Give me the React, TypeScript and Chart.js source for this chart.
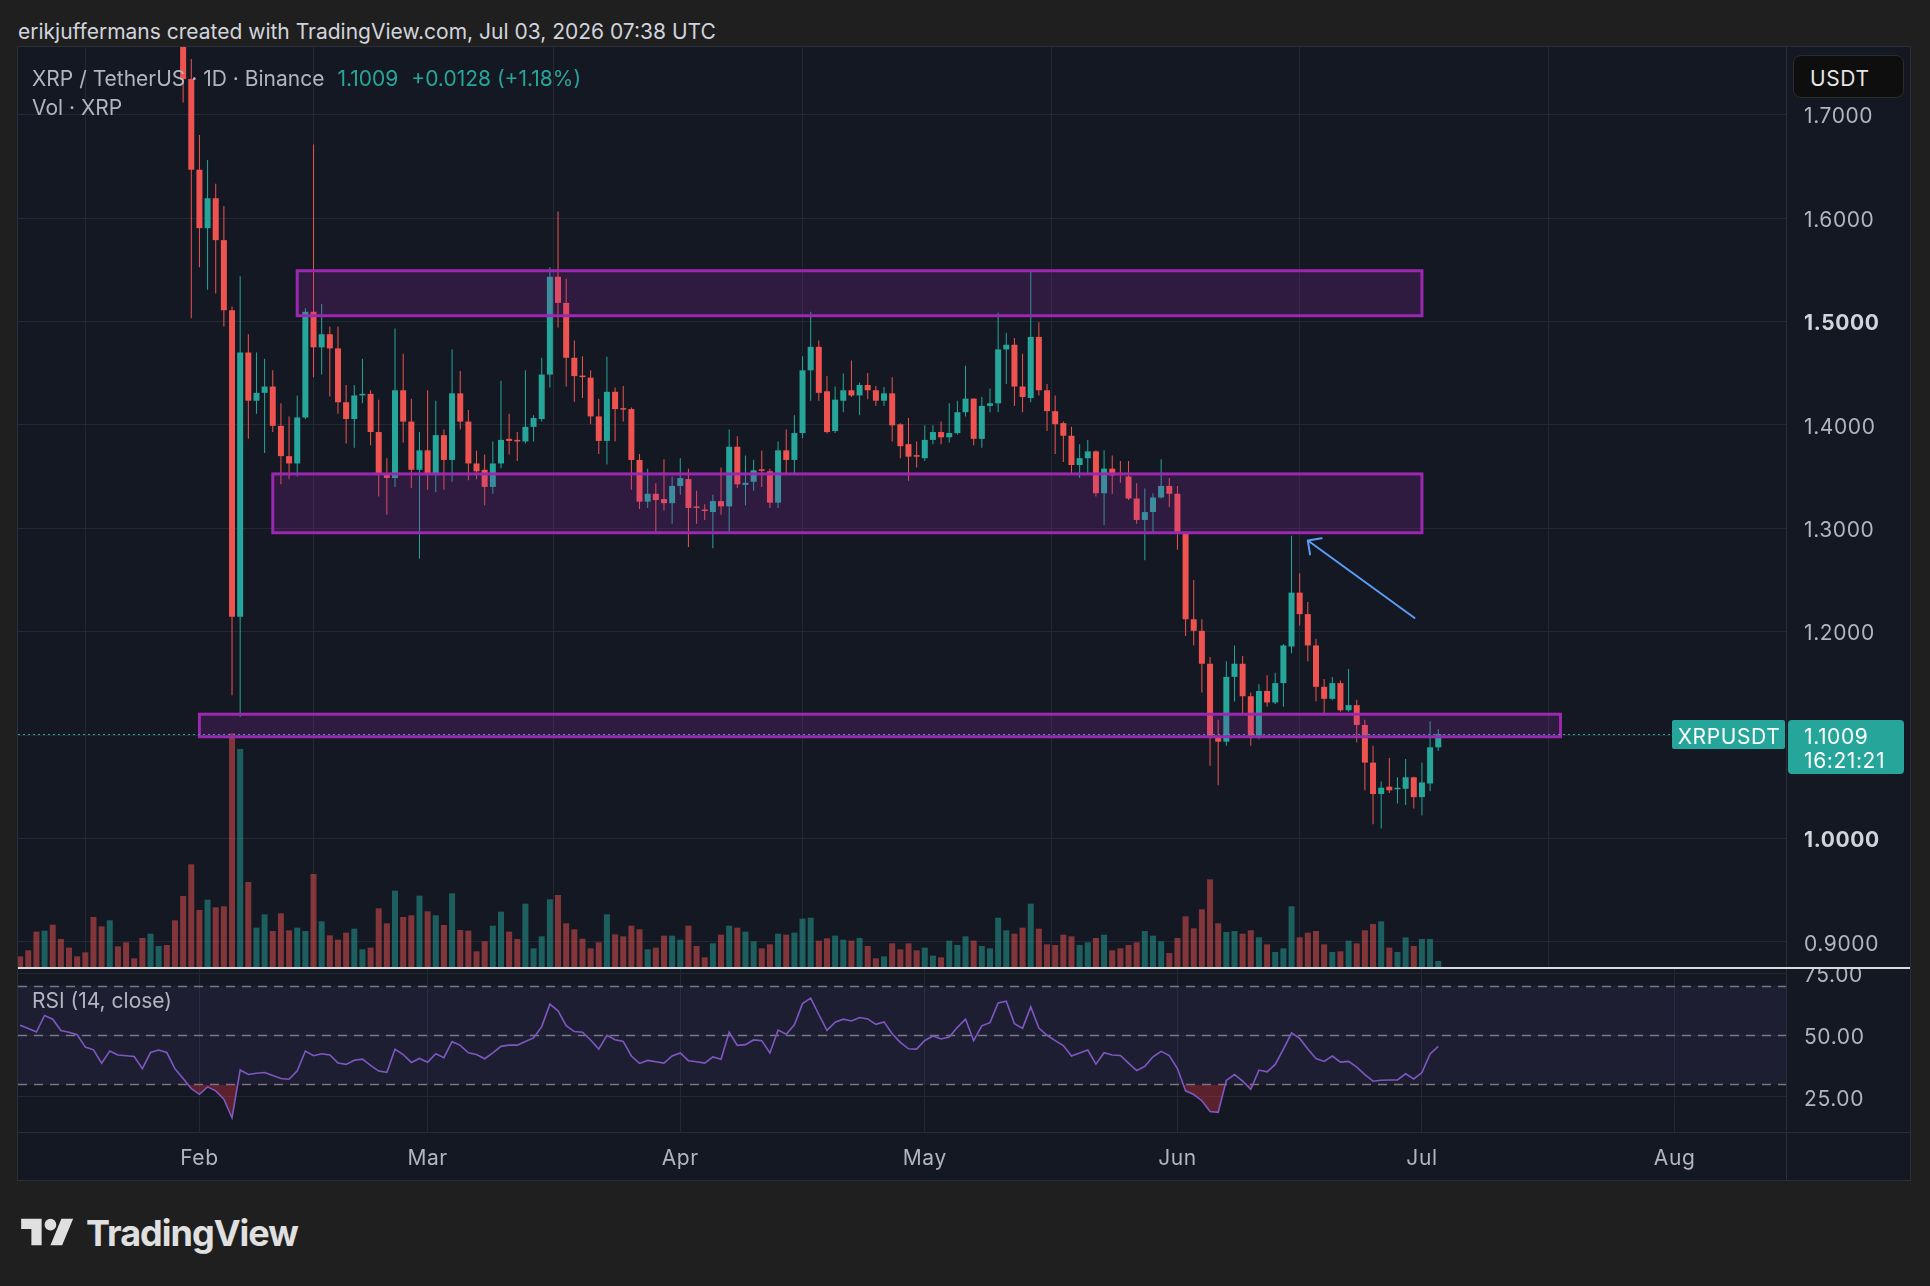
import React, { useEffect, useRef } from 'react';
import { Chart, registerables } from 'chart.js';

Chart.register(...registerables);

// ---------------------------------------------------------------------------
// DATA
// Day numbers count from 1 Feb 2026 (= day 0). Volume / RSI start 10 Jan 2026.
// ---------------------------------------------------------------------------
const FIRST_DAY = -22; // 10 Jan 2026
const FIRST_CANDLE_DAY = -2; // 30 Jan 2026: first candle inside the visible price range

const monthLabels = ['Feb', 'Mar', 'Apr', 'May', 'Jun', 'Jul', 'Aug'];
const monthDays = [0, 28, 59, 89, 120, 150, 181];
const priceTicks = [0.9, 1.0, 1.1, 1.2, 1.3, 1.4, 1.5, 1.6, 1.7];
const emphasisedPriceTicks = [1.0, 1.5];
const rsiTicks = [25, 50, 75];
const rsiBands = [70, 50, 30];

const opens = [
  1.78, 1.7344, 1.6467, 1.5902, 1.6191, 1.5786, 1.5108, 1.2144, 1.4699, 1.4233,
  1.4309, 1.437, 1.399, 1.3697, 1.3626, 1.4071, 1.5093, 1.4749, 1.4876, 1.4739,
  1.4218, 1.4056, 1.4284, 1.4299, 1.393, 1.3525, 1.3485, 1.4334, 1.4031, 1.3565,
  1.3753, 1.3525, 1.39, 1.366, 1.4304, 1.4031, 1.3626, 1.3565, 1.3399, 1.3626,
  1.3864, 1.3854, 1.3839, 1.398, 1.4056, 1.4486, 1.5432, 1.5179, 1.4648, 1.4476,
  1.4456, 1.4081, 1.3844, 1.4319, 1.4157, 1.4152, 1.366, 1.3257, 1.3333, 1.3282,
  1.3242, 1.3409, 1.3475, 1.3206, 1.3181, 1.3156, 1.3262, 1.3211, 1.3788, 1.3419,
  1.3449, 1.3565, 1.355, 1.3247, 1.3753, 1.366, 1.392, 1.4527, 1.4754, 1.4324,
  1.394, 1.4233, 1.4334, 1.4284, 1.4385, 1.4334, 1.4233, 1.4304, 1.4005, 1.3813,
  1.3697, 1.3677, 1.3854, 1.393, 1.3879, 1.392, 1.4122, 1.4253, 1.3864, 1.4183,
  1.4208, 1.4729, 1.4774, 1.437, 1.4259, 1.485, 1.4334, 1.4132, 1.4016, 1.3894,
  1.3611, 1.3677, 1.3743, 1.3338, 1.3576, 1.3525, 1.35, 1.3287, 1.308, 1.3156,
  1.3297, 1.3409, 1.3333, 1.2958, 1.2119, 1.2008, 1.1689, 1.0981, 1.0935, 1.1562,
  1.1689, 1.1375, 1.0971, 1.1426, 1.1315, 1.1502, 1.1856, 1.2377, 1.2169, 1.1866,
  1.1466, 1.135, 1.1502, 1.1239, 1.1289, 1.1097, 1.0733, 1.0429, 1.05, 1.0475,
  1.048, 1.0591, 1.0399, 1.0531, 1.0881,
];

const highs = [
  1.79, 1.7538, 1.6803, 1.656, 1.6332, 1.6115, 1.5144, 1.5437, 1.4876, 1.4699,
  1.4638, 1.4527, 1.4208, 1.4081, 1.4284, 1.5128, 1.6712, 1.5169, 1.4951, 1.4951,
  1.4385, 1.4385, 1.4638, 1.4334, 1.4243, 1.3677, 1.4931, 1.4688, 1.4253, 1.393,
  1.4334, 1.4233, 1.3955, 1.4729, 1.4521, 1.4142, 1.3748, 1.3712, 1.3839, 1.4425,
  1.4107, 1.393, 1.4527, 1.4092, 1.4648, 1.5523, 1.6064, 1.5412, 1.4815, 1.4663,
  1.4527, 1.4253, 1.4658, 1.436, 1.4375, 1.4167, 1.3717, 1.3576, 1.3434, 1.3667,
  1.35, 1.3677, 1.3576, 1.3363, 1.3232, 1.3323, 1.3586, 1.3955, 1.3889, 1.3702,
  1.3662, 1.3748, 1.3576, 1.3839, 1.3955, 1.4092, 1.4663, 1.5093, 1.4815, 1.4471,
  1.437, 1.4496, 1.4623, 1.441, 1.4501, 1.4375, 1.4365, 1.4461, 1.4016, 1.4066,
  1.3839, 1.3995, 1.3995, 1.4031, 1.4208, 1.4233, 1.4572, 1.4258, 1.4269, 1.435,
  1.5083, 1.4891, 1.484, 1.4688, 1.5498, 1.4992, 1.4395, 1.4284, 1.4031, 1.398,
  1.3813, 1.3854, 1.3753, 1.3753, 1.3702, 1.3651, 1.3651, 1.3434, 1.3383, 1.3338,
  1.3667, 1.3485, 1.3409, 1.2969, 1.2498, 1.2119, 1.1755, 1.1148, 1.1714, 1.1866,
  1.1765, 1.1411, 1.1492, 1.1578, 1.1603, 1.1881, 1.2928, 1.2564, 1.2286, 1.1932,
  1.1542, 1.1562, 1.1527, 1.1638, 1.134, 1.1148, 1.0895, 1.0551, 1.0778, 1.0591,
  1.0768, 1.0596, 1.0733, 1.1132, 1.1057,
];

const lows = [
  1.7116, 1.503, 1.5523, 1.5306, 1.527, 1.4951, 1.1385, 1.1173, 1.3864, 1.4107,
  1.3727, 1.393, 1.3424, 1.3474, 1.35, 1.4056, 1.4461, 1.4486, 1.4274, 1.4107,
  1.3818, 1.3778, 1.4208, 1.3803, 1.3307, 1.313, 1.3399, 1.3828, 1.3389, 1.2706,
  1.3373, 1.3348, 1.3373, 1.3449, 1.3955, 1.3464, 1.3474, 1.3222, 1.3333, 1.358,
  1.3712, 1.3651, 1.382, 1.3839, 1.4031, 1.436, 1.4941, 1.437, 1.4223, 1.4259,
  1.4006, 1.3717, 1.3616, 1.3839, 1.4031, 1.3373, 1.3186, 1.3196, 1.2958, 1.3171,
  1.3044, 1.3323, 1.2817, 1.3044, 1.308, 1.2807, 1.313, 1.2969, 1.3389, 1.3222,
  1.3363, 1.3399, 1.3196, 1.3196, 1.3525, 1.3515, 1.3869, 1.4233, 1.4233, 1.3915,
  1.392, 1.4122, 1.4269, 1.4092, 1.4248, 1.4183, 1.4183, 1.3839, 1.3677, 1.3459,
  1.3586, 1.3651, 1.3813, 1.3813, 1.3828, 1.3904, 1.4081, 1.3803, 1.3778, 1.4122,
  1.4122, 1.4395, 1.4183, 1.4122, 1.4218, 1.4284, 1.394, 1.3717, 1.3641, 1.3535,
  1.3485, 1.3515, 1.3307, 1.3029, 1.3333, 1.3439, 1.3272, 1.3044, 1.269, 1.2943,
  1.3287, 1.3206, 1.2792, 1.1957, 1.1866, 1.1411, 1.0703, 1.0515, 1.0895, 1.1325,
  1.1198, 1.0895, 1.096, 1.1274, 1.13, 1.1274, 1.179, 1.2058, 1.1714, 1.1325,
  1.1188, 1.1335, 1.1224, 1.1224, 1.093, 1.0465, 1.0136, 1.0096, 1.044, 1.0338,
  1.0323, 1.0288, 1.0222, 1.0455, 1.0845,
];

const closes = [
  1.7344, 1.6467, 1.5902, 1.6191, 1.5786, 1.5108, 1.2144, 1.4699, 1.4233, 1.4309,
  1.437, 1.399, 1.3697, 1.3626, 1.4071, 1.5093, 1.4749, 1.4876, 1.4739, 1.4218,
  1.4056, 1.4284, 1.4299, 1.393, 1.3525, 1.3485, 1.4334, 1.4031, 1.3565, 1.3753,
  1.3525, 1.39, 1.366, 1.4304, 1.4031, 1.3626, 1.355, 1.3399, 1.3626, 1.3854,
  1.3844, 1.3839, 1.398, 1.4066, 1.4486, 1.5432, 1.5179, 1.4648, 1.4471, 1.4461,
  1.4081, 1.3844, 1.4319, 1.4152, 1.4147, 1.366, 1.3257, 1.3333, 1.3272, 1.3242,
  1.3409, 1.3485, 1.3196, 1.3196, 1.3166, 1.3262, 1.3211, 1.3788, 1.3424, 1.3439,
  1.356, 1.3555, 1.3247, 1.3753, 1.366, 1.392, 1.4527, 1.4754, 1.4309, 1.393,
  1.4243, 1.4334, 1.4284, 1.4385, 1.4334, 1.4233, 1.4304, 1.3995, 1.3793, 1.3692,
  1.3692, 1.3854, 1.393, 1.3879, 1.392, 1.4122, 1.4253, 1.3864, 1.4183, 1.4208,
  1.4729, 1.4774, 1.437, 1.4269, 1.485, 1.4334, 1.4132, 1.4006, 1.3894, 1.3611,
  1.3677, 1.3743, 1.3338, 1.3576, 1.351, 1.352, 1.3287, 1.308, 1.3156, 1.3297,
  1.3409, 1.3333, 1.2958, 1.2119, 1.2008, 1.1689, 1.0981, 1.0935, 1.1562, 1.1689,
  1.1375, 1.0971, 1.1426, 1.1315, 1.1502, 1.1866, 1.2377, 1.2169, 1.1866, 1.1466,
  1.135, 1.1502, 1.1239, 1.1289, 1.1097, 1.0733, 1.0429, 1.049, 1.0465, 1.048,
  1.0591, 1.0399, 1.0541, 1.0881, 1.1009,
];

// volume (thousand-XRP units), 10 Jan .. 3 Jul
const volumes = [
  32, 50, 106, 109, 127, 84, 58, 32, 44, 150, 122, 140, 62, 74, 26, 87, 100, 63, 66, 140, 213, 308,
  171, 202, 179, 182, 701, 654, 255, 118, 158, 108, 161, 110, 118, 108, 279, 137, 95, 82, 103, 115,
  53, 58, 176, 131, 229, 150, 155, 214, 167, 155, 126, 221, 111, 109, 47, 77, 124, 166, 106, 84,
  190, 56, 92, 203, 216, 131, 113, 85, 56, 74, 158, 98, 92, 124, 113, 53, 58, 94, 94, 82, 124, 63,
  29, 71, 97, 124, 118, 106, 77, 56, 68, 100, 97, 103, 145, 148, 79, 86, 94, 82, 79, 87, 63, 26,
  32, 71, 53, 71, 50, 58, 34, 29, 79, 66, 92, 79, 63, 56, 148, 110, 100, 118, 190, 115, 68, 66, 97,
  92, 66, 74, 87, 97, 50, 56, 66, 74, 108, 94, 77, 42, 87, 152, 116, 173, 263, 131, 105, 108, 100,
  110, 89, 68, 45, 56, 182, 89, 103, 108, 68, 45, 47, 79, 71, 110, 129, 137, 58, 45, 89, 63, 84, 84, 18,
];
// direction of the days whose candles lie above the visible range (10 Jan .. 29 Jan), 1 = up
const hiddenVolumeUp = [0, 0, 0, 1, 0, 0, 0, 0, 0, 0, 0, 1, 0, 0, 0, 0, 1, 1, 0, 0];

// RSI(14, close), 10 Jan .. 3 Jul
const rsiValues = [
  53.9, 52.6, 51.2, 57.9, 56.4, 51.8, 51.1, 50.1, 45.1, 44.0, 38.6, 43.5, 41.9, 41.6, 41.3, 36.4,
  42.9, 43.9, 42.9, 36.3, 32.4, 28.3,
  26.0, 29.0, 27.4, 24.0, 16.5, 35.8, 34.0, 34.5, 34.8, 33.6, 32.4, 32.1, 35.5, 43.5, 41.6, 42.4,
  41.9, 38.7, 38.1, 39.8, 40.2, 37.7, 35.4, 34.9, 44.2, 42.1, 38.9, 40.5, 39.0, 42.4, 40.8, 47.3,
  45.8, 42.8, 42.1, 40.4, 42.8, 45.4, 45.9, 45.9, 47.4, 48.8, 53.4, 62.5, 59.8, 53.8, 51.4, 51.1,
  48.0, 44.3, 49.9, 48.1, 47.4, 41.5, 38.5, 39.7, 39.2, 38.6, 41.5, 42.7, 39.6, 39.2, 38.6, 41.1,
  40.2, 51.1, 45.8, 46.1, 48.0, 47.7, 42.7, 52.0, 50.3, 54.1, 62.7, 64.9, 58.3, 51.9, 55.2, 56.4,
  55.7, 57.1, 56.5, 54.3, 55.3, 50.5, 47.0, 44.4,
  44.3, 47.8, 49.6, 48.4, 49.2, 53.1, 56.4, 47.7, 53.7, 55.0, 63.0, 63.7, 54.6, 52.7, 61.4, 52.8,
  49.9, 47.7, 45.7, 41.5, 42.7, 43.9, 38.2, 42.8, 41.9, 41.7, 38.6, 35.6, 37.3, 41.2, 43.4, 41.7,
  36.4, 27.4, 25.9, 23.4, 19.0, 18.7, 31.6, 34.0, 31.3, 28.0, 35.8, 35.1, 38.1, 44.3, 50.8, 48.6,
  44.3, 40.5, 39.3, 41.5, 39.0, 39.3, 37.0, 34.0, 31.3, 31.7, 31.8, 31.8, 34.3, 32.2, 34.8, 42.3, 45.4,
];

// drawn zones (day, price)
const zoneStartDays = [12, 9, 0];
const zoneEndDays = [150, 150, 167];
const zoneTops = [1.549, 1.3525, 1.1201];
const zoneBottoms = [1.5055, 1.2956, 1.0983];
// drawn arrow (day, price)
const arrowFrom = [149.1, 1.2132];
const arrowTo = [136.0, 1.2881];

const symbolName = 'XRPUSDT';
const countdown = '16:21:21';

// ---------------------------------------------------------------------------
// STYLE / LAYOUT
// ---------------------------------------------------------------------------
const FONT = 'Inter, "Noto Sans", sans-serif';
const OUTER_BG = '#1f1f1f';
const CHART_BG = '#141823';
const GRID = '#242834';
const BORDER = '#2a2e39';
const TEXT = '#b2b5be';
const BRIGHT = '#d1d4dc';
const UP = '#26a69a';
const DOWN = '#ef5350';
const UP_VOL = 'rgba(38,166,154,0.5)';
const DOWN_VOL = 'rgba(239,83,80,0.5)';
const ZONE_FILL = 'rgba(156,39,176,0.2)';
const ZONE_LINE = '#9c27b0';
const ARROW = '#5b9cf6';
const RSI_LINE = '#7e57c2';
const AXIS_FONT_SIZE = 21;
const AXIS_SPACING = '0.6px';
const LABEL_SHIFT = 2.5;

const X_MIN = -22.26;
const X_MAX = 194.67;
const P_MIN = 0.87563;
const P_MAX = 1.76538;
const VOL_MAX = 2760;
const RSI_MIN = 10.73;
const RSI_MAX = 76.72;
const AXIS_W = 124;
const W = 1892;
const MAIN_H = 920;
const RSI_H = 211;
const TIME_H = 48;

const spacingPlugin = {
  id: 'spacing',
  beforeUpdate(chart: any) {
    chart.ctx.letterSpacing = AXIS_SPACING;
  },
  beforeDraw(chart: any) {
    chart.ctx.letterSpacing = AXIS_SPACING;
  },
};

const drawingsPlugin = {
  id: 'drawings',
  afterDatasetsDraw(chart: any) {
    const { ctx, chartArea: a, scales } = chart;
    const xs = scales.x;
    const ys = scales.y;
    ctx.save();
    ctx.beginPath();
    ctx.rect(a.left, a.top, a.right - a.left, a.bottom - a.top);
    ctx.clip();
    for (let i = 0; i < zoneStartDays.length; i++) {
      const x0 = xs.getPixelForValue(zoneStartDays[i]);
      const x1 = xs.getPixelForValue(zoneEndDays[i]);
      const y0 = ys.getPixelForValue(zoneTops[i]);
      const y1 = ys.getPixelForValue(zoneBottoms[i]);
      ctx.fillStyle = ZONE_FILL;
      ctx.fillRect(x0, y0, x1 - x0, y1 - y0);
      ctx.lineWidth = 3;
      ctx.strokeStyle = ZONE_LINE;
      ctx.strokeRect(x0, y0, x1 - x0, y1 - y0);
    }
    const sx = xs.getPixelForValue(arrowFrom[0]);
    const sy = ys.getPixelForValue(arrowFrom[1]);
    const tx = xs.getPixelForValue(arrowTo[0]);
    const ty = ys.getPixelForValue(arrowTo[1]);
    const ang = Math.atan2(sy - ty, sx - tx);
    const head = 14;
    const spread = Math.PI / 4;
    ctx.strokeStyle = ARROW;
    ctx.lineWidth = 2;
    ctx.lineCap = 'round';
    ctx.lineJoin = 'round';
    ctx.beginPath();
    ctx.moveTo(sx, sy);
    ctx.lineTo(tx, ty);
    ctx.moveTo(tx + head * Math.cos(ang - spread), ty + head * Math.sin(ang - spread));
    ctx.lineTo(tx, ty);
    ctx.lineTo(tx + head * Math.cos(ang + spread), ty + head * Math.sin(ang + spread));
    ctx.stroke();
    ctx.restore();
  },
  afterDraw(chart: any) {
    const { ctx, chartArea: a, scales } = chart;
    const last = closes[closes.length - 1];
    const py = Math.round(scales.y.getPixelForValue(last));
    ctx.save();
    ctx.strokeStyle = BORDER;
    ctx.lineWidth = 1;
    ctx.beginPath();
    ctx.moveTo(a.right + 0.5, 0);
    ctx.lineTo(a.right + 0.5, chart.height);
    ctx.stroke();
    ctx.strokeStyle = UP;
    ctx.setLineDash([2, 3]);
    ctx.beginPath();
    ctx.moveTo(a.left, py + 0.5);
    ctx.lineTo(a.right, py + 0.5);
    ctx.stroke();
    ctx.setLineDash([]);
    ctx.fillStyle = UP;
    ctx.beginPath();
    ctx.roundRect(a.right - 114, py - 14, 113, 29, 2);
    ctx.fill();
    ctx.beginPath();
    ctx.roundRect(a.right + 2, py - 14, 116, 54, 4);
    ctx.fill();
    ctx.fillStyle = '#ffffff';
    ctx.font = `${AXIS_FONT_SIZE}px ${FONT}`;
    ctx.letterSpacing = AXIS_SPACING;
    ctx.textBaseline = 'middle';
    ctx.textAlign = 'center';
    ctx.fillText(symbolName, a.right - 57, py + 1 + LABEL_SHIFT);
    ctx.textAlign = 'left';
    ctx.fillText(last.toFixed(4), a.right + 18, py + 1 + LABEL_SHIFT);
    ctx.fillText(countdown, a.right + 18, py + 25 + LABEL_SHIFT);
    ctx.restore();
  },
};

const rsiDecorPlugin = {
  id: 'rsiDecor',
  beforeDatasetsDraw(chart: any) {
    const { ctx, chartArea: a, scales } = chart;
    const ys = scales.y;
    const yTop = ys.getPixelForValue(rsiBands[0]);
    const yBot = ys.getPixelForValue(rsiBands[2]);
    ctx.save();
    ctx.fillStyle = 'rgba(126,87,194,0.1)';
    ctx.fillRect(a.left, yTop, a.right - a.left, yBot - yTop);
    ctx.strokeStyle = 'rgba(134,137,147,0.85)';
    ctx.lineWidth = 1.5;
    ctx.setLineDash([9, 7]);
    rsiBands.forEach((v) => {
      const y = Math.round(ys.getPixelForValue(v)) + 0.5;
      ctx.beginPath();
      ctx.moveTo(a.left, y);
      ctx.lineTo(a.right, y);
      ctx.stroke();
    });
    ctx.restore();
  },
  afterDraw(chart: any) {
    const { ctx, chartArea: a } = chart;
    ctx.save();
    ctx.strokeStyle = BORDER;
    ctx.lineWidth = 1;
    ctx.beginPath();
    ctx.moveTo(0, a.bottom + 0.5);
    ctx.lineTo(chart.width, a.bottom + 0.5);
    ctx.moveTo(a.right + 0.5, 0);
    ctx.lineTo(a.right + 0.5, chart.height);
    ctx.stroke();
    ctx.restore();
  },
};

function mainConfig(): any {
  const candleDays = opens.map((_, i) => FIRST_CANDLE_DAY + i);
  const candleColors = opens.map((o, i) => (closes[i] >= o ? UP : DOWN));
  const hidden = FIRST_CANDLE_DAY - FIRST_DAY;
  const volColors = volumes.map((_, i) => {
    const up = i < hidden ? hiddenVolumeUp[i] === 1 : closes[i - hidden] >= opens[i - hidden];
    return up ? UP_VOL : DOWN_VOL;
  });
  return {
    type: 'bar',
    data: {
      datasets: [
        {
          data: volumes.map((v, i) => ({ x: FIRST_DAY + i, y: v })),
          yAxisID: 'yVol',
          backgroundColor: volColors,
          barThickness: 6,
          grouped: false,
          inflateAmount: 0,
          order: 3,
        },
        {
          data: candleDays.map((d, i) => ({ x: d, y: [lows[i], highs[i]] })),
          yAxisID: 'y',
          backgroundColor: candleColors,
          barThickness: 1,
          grouped: false,
          inflateAmount: 0,
          order: 2,
        },
        {
          data: candleDays.map((d, i) => ({ x: d, y: [opens[i], closes[i]] })),
          yAxisID: 'y',
          backgroundColor: candleColors,
          barThickness: 6,
          grouped: false,
          inflateAmount: 0,
          minBarLength: 1.5,
          order: 1,
        },
      ],
    },
    options: {
      responsive: false,
      animation: false,
      devicePixelRatio: 1,
      events: [],
      layout: { padding: 0 },
      plugins: { legend: { display: false }, tooltip: { enabled: false } },
      scales: {
        x: {
          type: 'linear',
          min: X_MIN,
          max: X_MAX,
          offset: false,
          afterBuildTicks: (s: any) => {
            s.ticks = monthDays.map((v) => ({ value: v }));
          },
          ticks: { display: false },
          grid: { color: GRID, drawTicks: false },
          border: { display: false },
        },
        y: {
          type: 'linear',
          position: 'right',
          min: P_MIN,
          max: P_MAX,
          afterBuildTicks: (s: any) => {
            s.ticks = priceTicks.map((v) => ({ value: v }));
          },
          afterFit: (s: any) => {
            s.width = AXIS_W;
            s.paddingTop = 0;
            s.paddingBottom = 0;
          },
          ticks: {
            padding: 18,
            labelOffset: LABEL_SHIFT,
            color: (c: any) => (c.tick && emphasisedPriceTicks.includes(c.tick.value) ? BRIGHT : TEXT),
            font: (c: any) => ({
              family: FONT,
              size: AXIS_FONT_SIZE,
              weight: c.tick && emphasisedPriceTicks.includes(c.tick.value) ? 'bold' : 'normal',
            }),
            callback: (v: any) => Number(v).toFixed(4),
          },
          grid: { color: GRID, drawTicks: false },
          border: { display: false },
        },
        yVol: {
          type: 'linear',
          position: 'left',
          display: false,
          min: 0,
          max: VOL_MAX,
          grid: { display: false },
        },
      },
    },
    plugins: [spacingPlugin, drawingsPlugin],
  };
}

function rsiConfig(): any {
  return {
    type: 'line',
    data: {
      datasets: [
        {
          data: rsiValues.map((v, i) => ({ x: FIRST_DAY + i, y: v })),
          borderColor: RSI_LINE,
          borderWidth: 1.6,
          pointRadius: 0,
          tension: 0,
          fill: { target: { value: rsiBands[2] }, above: 'rgba(0,0,0,0)', below: 'rgba(242,54,69,0.32)' },
        },
      ],
    },
    options: {
      responsive: false,
      animation: false,
      devicePixelRatio: 1,
      events: [],
      layout: { padding: 0 },
      plugins: { legend: { display: false }, tooltip: { enabled: false } },
      scales: {
        x: {
          type: 'linear',
          min: X_MIN,
          max: X_MAX,
          offset: false,
          afterBuildTicks: (s: any) => {
            s.ticks = monthDays.map((v) => ({ value: v }));
          },
          afterFit: (s: any) => {
            s.height = TIME_H;
          },
          ticks: {
            autoSkip: false,
            maxRotation: 0,
            padding: 14,
            color: TEXT,
            font: { family: FONT, size: AXIS_FONT_SIZE },
            callback: (v: any) => {
              const k = monthDays.indexOf(Number(v));
              return k >= 0 ? monthLabels[k] : '';
            },
          },
          grid: { color: GRID, drawTicks: false },
          border: { display: false },
        },
        y: {
          type: 'linear',
          position: 'right',
          min: RSI_MIN,
          max: RSI_MAX,
          afterBuildTicks: (s: any) => {
            s.ticks = rsiTicks.map((v) => ({ value: v }));
          },
          afterFit: (s: any) => {
            s.width = AXIS_W;
            s.paddingTop = 0;
            s.paddingBottom = 0;
          },
          ticks: {
            padding: 18,
            labelOffset: LABEL_SHIFT,
            color: TEXT,
            font: { family: FONT, size: AXIS_FONT_SIZE },
            callback: (v: any) => Number(v).toFixed(2),
          },
          grid: { color: GRID, drawTicks: false },
          border: { display: false },
        },
      },
    },
    plugins: [spacingPlugin, rsiDecorPlugin],
  };
}

export default function App() {
  const mainRef = useRef<HTMLCanvasElement>(null);
  const rsiRef = useRef<HTMLCanvasElement>(null);

  useEffect(() => {
    Chart.defaults.font.family = FONT;
    const main = new Chart(mainRef.current as HTMLCanvasElement, mainConfig());
    const rsi = new Chart(rsiRef.current as HTMLCanvasElement, rsiConfig());
    return () => {
      main.destroy();
      rsi.destroy();
    };
  }, []);

  const last = closes[closes.length - 1];
  const prev = closes[closes.length - 2];
  const change = last - prev;
  const pct = (change / prev) * 100;

  const abs = (extra: any) => ({ position: 'absolute', whiteSpace: 'nowrap', ...extra });

  return (
    <div style={abs({ left: 0, top: 0, width: 1930, height: 1286, background: OUTER_BG, overflow: 'hidden', fontFamily: FONT })}>
      <div style={abs({ left: 18, top: 18, fontSize: 21, lineHeight: '28px', color: BRIGHT })}>
        erikjuffermans created with TradingView.com, Jul 03, 2026 07:38 UTC
      </div>
      <div style={abs({ left: 17, top: 46, width: 1892, height: 1133, border: `1px solid ${BORDER}`, background: CHART_BG })} />
      <canvas ref={mainRef} width={W} height={MAIN_H} style={abs({ left: 18, top: 47, display: 'block' })} />
      <div style={abs({ left: 18, top: 967, width: W, height: 2, background: '#d9dbe0' })} />
      <canvas ref={rsiRef} width={W} height={RSI_H} style={abs({ left: 18, top: 969, display: 'block' })} />

      <div style={abs({ left: 32, top: 65, fontSize: 21, lineHeight: '28px', color: TEXT, display: 'flex', gap: 13 })}>
        <span>XRP / TetherUS · 1D · Binance</span>
        <span style={{ color: UP }}>{last.toFixed(4)}</span>
        <span style={{ color: UP }}>
          {(change >= 0 ? '+' : '') + change.toFixed(4)} ({(pct >= 0 ? '+' : '') + pct.toFixed(2)}%)
        </span>
      </div>
      <div style={abs({ left: 32, top: 94, fontSize: 21, lineHeight: '28px', color: TEXT })}>Vol · XRP</div>
      <div style={abs({ left: 32, top: 987, fontSize: 21, lineHeight: '28px', color: TEXT })}>RSI (14, close)</div>

      <div
        style={abs({
          left: 1793,
          top: 55,
          width: 111,
          height: 43,
          background: '#0e0e0e',
          border: '1px solid #2c2c2c',
          borderRadius: 8,
          color: '#e6e6e6',
          fontSize: 21,
          lineHeight: '45px',
          paddingLeft: 16,
          letterSpacing: '0.6px',
          boxSizing: 'border-box',
        })}
      >
        USDT
      </div>

      <svg width={53} height={41} viewBox="0 0 36 28" style={abs({ left: 21, top: 1213 })}>
        <path d="M14 22H7V11H0V4h14v18zM28 22h-8l7.5-18h8L28 22z" fill="#e0e0e0" />
        <circle cx="20" cy="8" r="4" fill="#e0e0e0" />
      </svg>
      <div style={abs({ left: 86, top: 1215, fontSize: 36, lineHeight: '36px', fontWeight: 700, letterSpacing: '-1px', color: '#e0e0e0' })}>
        TradingView
      </div>
    </div>
  );
}
